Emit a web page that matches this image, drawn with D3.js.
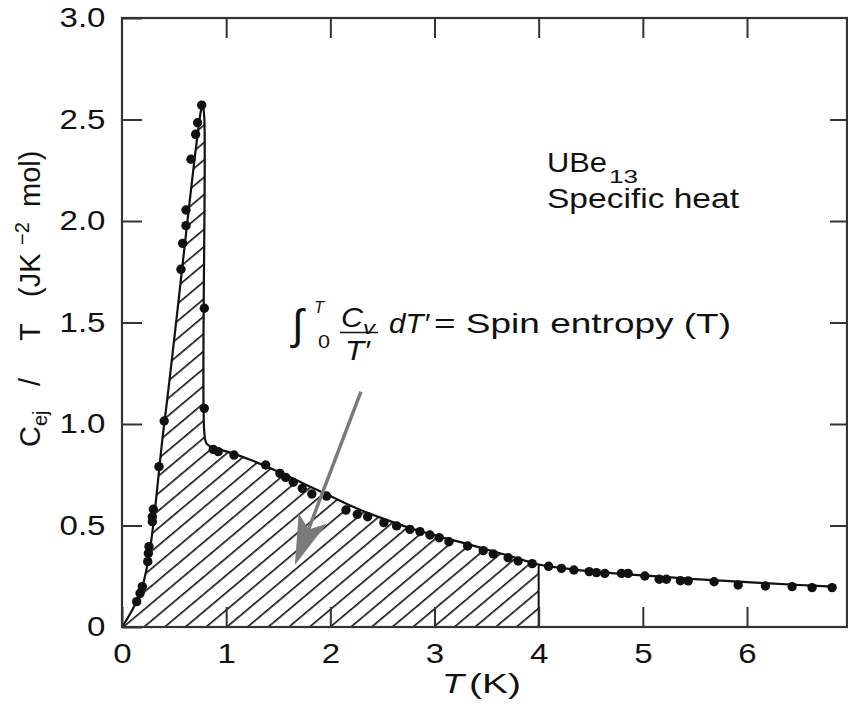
<!DOCTYPE html>
<html>
<head>
<meta charset="utf-8">
<script src="https://cdn.jsdelivr.net/npm/d3@7"></script>
<style>
  html, body { margin: 0; padding: 0; background: #fff; }
  svg { display: block; }
  text { font-family: "Liberation Sans", Arial, Helvetica, sans-serif; fill: #111; }
</style>
</head>
<body>
<svg id="chart" width="848" height="722"></svg>
<script>
// ---------------- data ----------------
const measuredT = [
  0.141,0.173,0.195,0.247,0.253,0.259,0.291,0.291,0.301,0.355,0.405,
  0.566,0.582,0.614,0.614,0.662,0.707,0.726,0.765,
  0.790,0.790,
  0.876,0.924,1.075,1.379,1.516,1.571,1.644,1.731,1.823,1.964,2.150,2.259,2.358,
  2.514,2.636,2.764,2.860,2.956,3.045,3.138,3.318,3.468,3.564,3.707,3.803,3.938,
  4.095,4.219,4.338,4.485,4.555,4.635,4.795,4.859,5.019,5.157,5.227,5.361,5.435,
  5.684,5.915,6.177,6.433,6.625,6.817
];
const measuredCT = [
  0.125,0.166,0.199,0.322,0.363,0.396,0.519,0.543,0.580,0.790,1.015,
  1.762,1.890,1.977,2.054,2.304,2.427,2.484,2.571,
  1.570,1.077,
  0.875,0.864,0.847,0.798,0.757,0.737,0.713,0.683,0.655,0.645,0.576,0.555,0.543,
  0.514,0.498,0.481,0.470,0.453,0.440,0.420,0.399,0.376,0.360,0.341,0.325,0.312,
  0.299,0.289,0.281,0.273,0.268,0.264,0.264,0.264,0.251,0.235,0.235,0.228,0.227,
  0.223,0.207,0.202,0.199,0.194,0.194
];
// guide curve drawn through the data
const curveT  = [0,0.19,0.41,0.76,0.775,0.79,0.79,0.81,0.86,1.0,1.25,1.5,1.75,2.0,2.25,2.5,2.75,3.0,3.25,3.5,3.75,4.0,4.25,4.5,5.0,5.5,6.0,6.5,6.83];
const curveCT = [0,0.19,1.02,2.55,2.575,2.51,0.96,0.905,0.885,0.865,0.820,0.765,0.705,0.645,0.585,0.535,0.490,0.452,0.418,0.382,0.346,0.308,0.289,0.274,0.254,0.236,0.221,0.207,0.199];
const entropyLimitT = 4;           // upper limit of hatched integral
const xTicks = [0,1,2,3,4,5,6];
const xTickLabels = ["0","1","2","3","4","5","6"];
const yTicks = [0,0.5,1.0,1.5,2.0,2.5,3.0];
const yTickLabels = ["0","0.5","1.0","1.5","2.0","2.5","3.0"];
const arrowFrom = [2.294, 1.159];  // (T, C/T) of arrow tail
const arrowTo   = [1.660, 0.305];  // (T, C/T) of arrow tip

// ---------------- setup ----------------
const svg = d3.select("#chart");
const mLeft = 122, mRight = 847, mTop = 18, mBottom = 627;
const x = d3.scaleLinear().domain([0, 6.96]).range([mLeft, mRight]);
const y = d3.scaleLinear().domain([0, 3]).range([mBottom, mTop]);
const SX = 1.18;  // horizontal stretch of the original typesetting
const FS = 28;

const points = measuredT.map((t, i) => ({t, c: measuredCT[i]}));
const curvePts = curveT.map((t, i) => ({t, c: curveCT[i]}));
const curveKind = d3.curveCatmullRom.alpha(0.5);

const defs = svg.append("defs");
const hatch = defs.append("pattern")
  .attr("id", "hatch")
  .attr("patternUnits", "userSpaceOnUse")
  .attr("width", 40).attr("height", 13.3)
  .attr("patternTransform", `translate(${mLeft},${mBottom}) rotate(-40)`);
hatch.append("rect").attr("x", 0).attr("y", 0).attr("width", 40).attr("height", 1.6).attr("fill", "#111");

defs.append("clipPath").attr("id", "clipInt")
  .append("rect")
  .attr("x", x(0)).attr("y", mTop)
  .attr("width", x(entropyLimitT) - x(0)).attr("height", mBottom - mTop);

// hatched area
const area = d3.area().x(d => x(d.t)).y0(y(0)).y1(d => y(d.c)).curve(curveKind);
svg.append("path").datum(curvePts)
  .attr("d", area)
  .attr("fill", "url(#hatch)")
  .attr("clip-path", "url(#clipInt)");

// vertical boundary at T = 4
const cAt4 = curveCT[curveT.indexOf(entropyLimitT)];
svg.append("line")
  .attr("x1", x(entropyLimitT)).attr("x2", x(entropyLimitT))
  .attr("y1", y(0)).attr("y2", y(cAt4))
  .attr("stroke", "#111").attr("stroke-width", 2);

// guide curve
const line = d3.line().x(d => x(d.t)).y(d => y(d.c)).curve(curveKind);
svg.append("path").datum(curvePts)
  .attr("d", line)
  .attr("fill", "none").attr("stroke", "#111")
  .attr("stroke-width", 2.2).attr("stroke-linejoin", "round");

// data points
svg.append("g").selectAll("circle").data(points).join("circle")
  .attr("cx", d => x(d.t)).attr("cy", d => y(d.c)).attr("r", 4.7)
  .attr("fill", "#111");

// ---------------- axes ----------------
const axisColor = "#333";
function styleAxis(g) {
  g.select(".domain").remove();
  g.selectAll(".tick line").attr("stroke", axisColor).attr("stroke-width", 2);
}
const gl = svg.append("g").attr("transform", `translate(${mLeft},0)`)
  .call(d3.axisLeft(y).tickValues(yTicks).tickFormat((d, i) => yTickLabels[i]).tickSize(-20).tickPadding(14));
styleAxis(gl);
gl.selectAll("text").attr("font-size", FS).attr("fill", "#111")
  .attr("font-family", "Liberation Sans, Arial, sans-serif")
  .attr("transform", `scale(${SX},1)`);

const gb = svg.append("g").attr("transform", `translate(0,${mBottom})`)
  .call(d3.axisBottom(x).tickValues(xTicks).tickFormat((d, i) => xTickLabels[i]).tickSize(-20).tickPadding(16));
styleAxis(gb);
gb.selectAll("text").attr("font-size", FS).attr("fill", "#111")
  .attr("font-family", "Liberation Sans, Arial, sans-serif")
  .attr("transform", `scale(${SX},1)`);

const gt = svg.append("g").attr("transform", `translate(0,${mTop})`)
  .call(d3.axisTop(x).tickValues(xTicks.slice(1)).tickFormat("").tickSize(-20));
styleAxis(gt);
const gr = svg.append("g").attr("transform", `translate(${mRight},0)`)
  .call(d3.axisRight(y).tickValues(yTicks.slice(1, -1)).tickFormat("").tickSize(-17));
styleAxis(gr);

// frame
svg.append("rect")
  .attr("x", mLeft).attr("y", mTop).attr("width", mRight - mLeft).attr("height", mBottom - mTop)
  .attr("fill", "none").attr("stroke", axisColor).attr("stroke-width", 2.2);

// ---------------- text ----------------
function ltext(xp, yp, str, len, opt = {}) {
  const t = svg.append("text")
    .attr("x", xp).attr("y", yp)
    .attr("font-size", opt.size || FS)
    .attr("textLength", len)
    .attr("lengthAdjust", "spacingAndGlyphs")
    .text(str);
  if (opt.italic) t.attr("font-style", "italic");
  if (opt.family) t.attr("font-family", opt.family);
  return t;
}

// x-axis title
ltext(442, 693, "T", 22, {italic: true});
ltext(469, 693, "(K)", 52);

// y-axis title (rotated)
const gy = svg.append("g").attr("transform", "translate(40,0) rotate(-90)");
function ytext(u, str, opt = {}) {
  gy.append("text").attr("x", -u).attr("y", opt.dy || 0)
    .attr("font-size", opt.size || 29).text(str);
}
ytext(447, "C");
ytext(426, "ej", {size: 20, dy: 7});
ytext(386, "/");
ytext(341, "T");
ytext(297, "(JK");
ytext(245, "\u22122", {size: 20, dy: -11});
ytext(207, "mol)");

// material label
ltext(547, 172, "UBe", 60);
ltext(609, 183, "13", 29, {size: 19});
ltext(547, 208, "Specific heat", 192);

// formula annotation
svg.append("text").attr("x", 292).attr("y", 339).attr("font-size", 42)
  .attr("font-family", "DejaVu Serif, serif").attr("font-style", "italic").text("\u222B");
ltext(314, 313, "T", 10, {size: 17, italic: true});
ltext(318, 348, "0", 12, {size: 19});
ltext(341, 327, "C", 22, {italic: true});
ltext(363, 334, "v", 12, {size: 19, italic: true});
svg.append("line").attr("x1", 340).attr("x2", 378).attr("y1", 332.5).attr("y2", 332.5)
  .attr("stroke", "#111").attr("stroke-width", 1.6);
ltext(345, 360, "T\u2032", 25, {italic: true});
ltext(389, 333, "dT\u2032", 40, {italic: true});
ltext(434, 333, "= Spin entropy (T)", 297);

// arrow
const ax0 = x(arrowFrom[0]), ay0 = y(arrowFrom[1]);
const ax1 = x(arrowTo[0]), ay1 = y(arrowTo[1]);
const ang = Math.atan2(ay1 - ay0, ax1 - ax0);
const headLen = 50, headHalf = 15, notch = 38;
const ux = Math.cos(ang), uy = Math.sin(ang), px = -uy, py = ux;
const bx = ax1 - ux * headLen, by = ay1 - uy * headLen;
const nx = ax1 - ux * notch, ny = ay1 - uy * notch;
svg.append("line")
  .attr("x1", ax0).attr("y1", ay0).attr("x2", nx).attr("y2", ny)
  .attr("stroke", "#7a7a7a").attr("stroke-width", 3.5);
svg.append("path")
  .attr("d", `M${ax1},${ay1} L${bx + px * headHalf},${by + py * headHalf} L${nx},${ny} L${bx - px * headHalf},${by - py * headHalf} Z`)
  .attr("fill", "#7a7a7a");
</script>
</body>
</html>
